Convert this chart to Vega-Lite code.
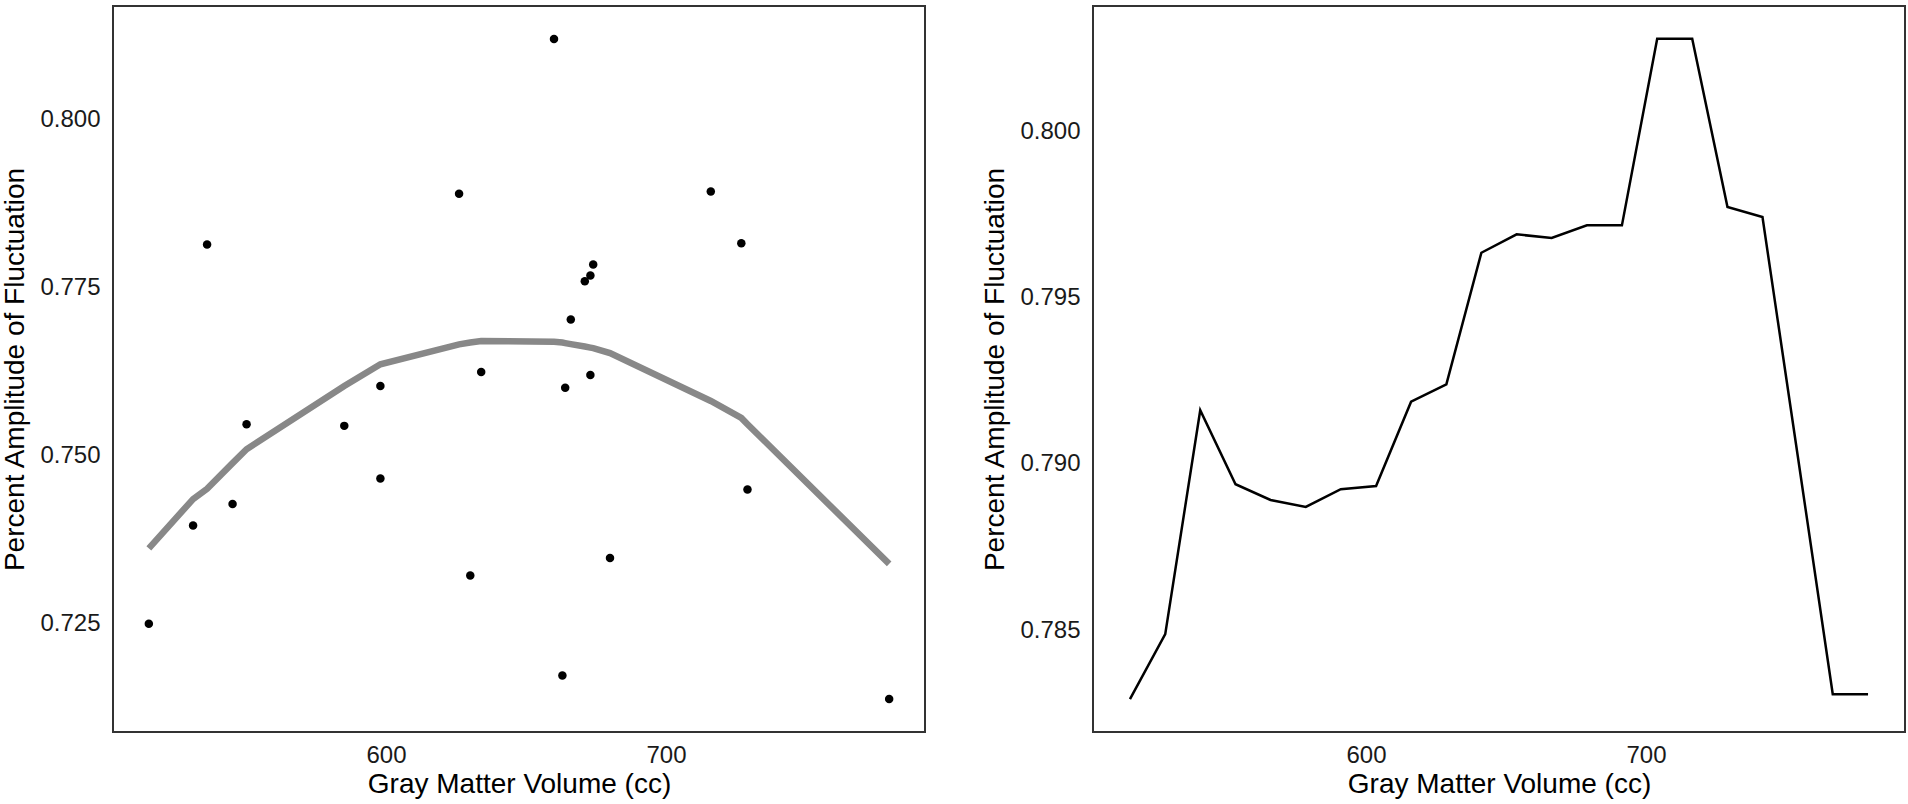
{
  "$schema": "https://vega.github.io/schema/vega-lite/v6.json",
  "padding": {"left": 0, "top": 5, "right": 0, "bottom": 0},
  "background": "white",
  "config": {
    "view": {"stroke": "#333333", "strokeWidth": 2},
    "font": "Liberation Sans",
    "axis": {"grid": false, "domain": false, "ticks": false, "labelFontSize": 24, "titleFontSize": 28, "labelColor": "#1a1a1a", "titleColor": "#000000", "titleFontWeight": "normal", "labelFont": "Liberation Sans", "titleFont": "Liberation Sans"},
    "axisX": {"labelPadding": 11, "titlePadding": 3},
    "axisY": {"labelPadding": 13, "titlePadding": 10, "minExtent": 74, "maxExtent": 74}
  },
  "spacing": 54,
  "datasets": {
    "points": [
      {"gmv": 536.1, "paf": 0.78138},
      {"gmv": 626.1, "paf": 0.78896},
      {"gmv": 598.0, "paf": 0.76032},
      {"gmv": 634.0, "paf": 0.76240},
      {"gmv": 660.0, "paf": 0.81199},
      {"gmv": 716.0, "paf": 0.78930},
      {"gmv": 726.9, "paf": 0.78157},
      {"gmv": 674.0, "paf": 0.77841},
      {"gmv": 673.0, "paf": 0.77677},
      {"gmv": 671.0, "paf": 0.77593},
      {"gmv": 666.0, "paf": 0.77023},
      {"gmv": 673.0, "paf": 0.76196},
      {"gmv": 664.0, "paf": 0.76007},
      {"gmv": 550.2, "paf": 0.75463},
      {"gmv": 585.1, "paf": 0.75438},
      {"gmv": 598.0, "paf": 0.74655},
      {"gmv": 545.2, "paf": 0.74274},
      {"gmv": 531.1, "paf": 0.73956},
      {"gmv": 630.1, "paf": 0.73208},
      {"gmv": 515.3, "paf": 0.72491},
      {"gmv": 729.1, "paf": 0.74491},
      {"gmv": 680.0, "paf": 0.73472},
      {"gmv": 663.0, "paf": 0.71722},
      {"gmv": 779.7, "paf": 0.71370}
    ],
    "fit": [
      {"gmv": 515.3, "paf": 0.73614},
      {"gmv": 531.1, "paf": 0.74348},
      {"gmv": 536.1, "paf": 0.74501},
      {"gmv": 545.2, "paf": 0.74883},
      {"gmv": 550.2, "paf": 0.75091},
      {"gmv": 585.1, "paf": 0.76032},
      {"gmv": 598.0, "paf": 0.76355},
      {"gmv": 626.1, "paf": 0.76652},
      {"gmv": 630.1, "paf": 0.76679},
      {"gmv": 634.0, "paf": 0.76701},
      {"gmv": 660.0, "paf": 0.76690},
      {"gmv": 663.0, "paf": 0.76679},
      {"gmv": 664.0, "paf": 0.76671},
      {"gmv": 666.0, "paf": 0.76656},
      {"gmv": 671.0, "paf": 0.76619},
      {"gmv": 673.0, "paf": 0.76604},
      {"gmv": 674.0, "paf": 0.76597},
      {"gmv": 680.0, "paf": 0.76522},
      {"gmv": 716.0, "paf": 0.75809},
      {"gmv": 726.9, "paf": 0.75557},
      {"gmv": 729.1, "paf": 0.75463},
      {"gmv": 779.7, "paf": 0.73382}
    ],
    "pdp": [
      {"gmv": 515.7, "paf": 0.782927},
      {"gmv": 528.3, "paf": 0.784880},
      {"gmv": 540.8, "paf": 0.791609},
      {"gmv": 553.4, "paf": 0.789386},
      {"gmv": 565.9, "paf": 0.788914},
      {"gmv": 578.5, "paf": 0.788704},
      {"gmv": 591.0, "paf": 0.789236},
      {"gmv": 603.6, "paf": 0.789335},
      {"gmv": 616.1, "paf": 0.791868},
      {"gmv": 628.7, "paf": 0.792390},
      {"gmv": 641.2, "paf": 0.796344},
      {"gmv": 653.8, "paf": 0.796897},
      {"gmv": 666.3, "paf": 0.796786},
      {"gmv": 678.9, "paf": 0.797167},
      {"gmv": 691.4, "paf": 0.797167},
      {"gmv": 704.0, "paf": 0.802773},
      {"gmv": 716.5, "paf": 0.802773},
      {"gmv": 729.1, "paf": 0.797717},
      {"gmv": 741.6, "paf": 0.797416},
      {"gmv": 754.2, "paf": 0.790236},
      {"gmv": 766.7, "paf": 0.783077},
      {"gmv": 779.3, "paf": 0.783077}
    ]
  },
  "hconcat": [
    {
      "width": 812,
      "height": 726,
      "layer": [
        {
          "data": {"name": "points"},
          "mark": {"type": "circle", "size": 72, "color": "#000000", "opacity": 1},
          "encoding": {
            "x": {"field": "gmv", "type": "quantitative", "scale": {"domain": [502.5, 792.5], "nice": false, "zero": false}, "axis": {"values": [600, 700], "title": "Gray Matter Volume (cc)"}},
            "y": {"field": "paf", "type": "quantitative", "scale": {"domain": [0.70879, 0.81691], "nice": false, "zero": false}, "axis": {"values": [0.725, 0.75, 0.775, 0.8], "format": ".3f", "title": "Percent Amplitude of Fluctuation"}}
          }
        },
        {
          "data": {"name": "fit"},
          "mark": {"type": "line", "color": "#888888", "strokeWidth": 6.5},
          "encoding": {
            "x": {"field": "gmv", "type": "quantitative"},
            "y": {"field": "paf", "type": "quantitative"}
          }
        }
      ]
    },
    {
      "width": 812,
      "height": 726,
      "data": {"name": "pdp"},
      "mark": {"type": "line", "color": "#000000", "strokeWidth": 2.5},
      "encoding": {
        "x": {"field": "gmv", "type": "quantitative", "scale": {"domain": [502.5, 792.5], "nice": false, "zero": false}, "axis": {"values": [600, 700], "title": "Gray Matter Volume (cc)"}},
        "y": {"field": "paf", "type": "quantitative", "scale": {"domain": [0.78194, 0.80376], "nice": false, "zero": false}, "axis": {"values": [0.785, 0.79, 0.795, 0.8], "format": ".3f", "title": "Percent Amplitude of Fluctuation"}}
      }
    }
  ]
}
